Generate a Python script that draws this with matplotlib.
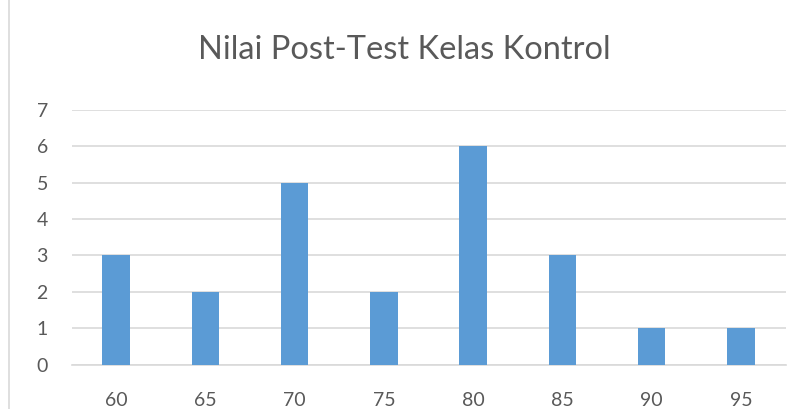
import matplotlib
matplotlib.use("Agg")
import matplotlib.pyplot as plt
from matplotlib.lines import Line2D

categories = ["60", "65", "70", "75", "80", "85", "90", "95"]
values = [3, 2, 5, 2, 6, 3, 1, 1]
yticks = [0, 1, 2, 3, 4, 5, 6, 7]

W, H = 787, 409
fig = plt.figure(figsize=(W / 100, H / 100), dpi=100)
plt.rcParams['font.family'] = ['Lato', 'DejaVu Sans']

left, right = 71.5 / W, 785.5 / W
bottom, top = 1 - 364.5 / H, 1 - 110 / H
ax = fig.add_axes([left, bottom, right - left, top - bottom])

x = list(range(len(categories)))
ax.bar(x, values, width=0.31, color="#5B9BD5", zorder=3)
ax.set_xlim(-0.5, len(categories) - 0.5)
ax.set_ylim(0, 7)
ax.set_yticks(yticks)
ax.set_xticks(x)
ax.set_xticklabels(categories)
ax.grid(axis="y", color="#D9D9D9", linewidth=1.2, zorder=0)
for s in ["top", "right", "left"]:
    ax.spines[s].set_visible(False)
ax.spines["bottom"].set_color("#D9D9D9")
ax.spines["bottom"].set_linewidth(1.2)
ax.tick_params(axis="both", length=0, labelsize=14, colors="#595959")
ax.tick_params(axis="y", pad=17)
ax.tick_params(axis="x", pad=20)

fig.text(404 / W, 1 - 50 / H, "Nilai Post-Test Kelas Kontrol", ha="center", va="center",
         fontsize=23.5, color="#595959")

fig.add_artist(Line2D([8.5 / W, 8.5 / W], [0, 1], transform=fig.transFigure,
                      color="#D9D9D9", linewidth=1.2))

fig.savefig("out.png", dpi=100)
